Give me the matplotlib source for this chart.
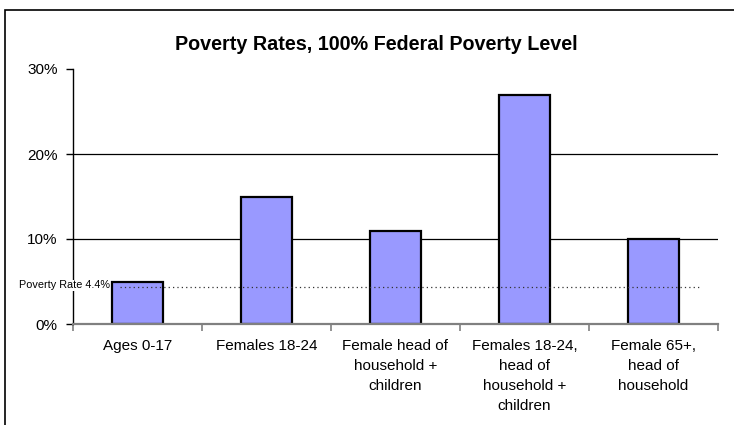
import matplotlib
matplotlib.use("Agg")
import matplotlib.pyplot as plt
from matplotlib.patches import Rectangle
from matplotlib.ticker import FuncFormatter

plt.rcParams['font.family'] = ['Liberation Sans', 'DejaVu Sans']

categories = ["Ages 0-17", "Females 18-24", "Female head of\nhousehold +\nchildren",
              "Females 18-24,\nhead of\nhousehold +\nchildren", "Female 65+,\nhead of\nhousehold"]
rates = [5, 15, 11, 27, 10]
poverty_rate = 4.4
y_ticks = [0, 10, 20, 30]
title = "Poverty Rates, 100% Federal Poverty Level"

W, H = 734, 425
fig = plt.figure(figsize=(W / 100, H / 100), dpi=100)
ax = fig.add_axes([73 / W, 1 - 324 / H, (718 - 73) / W, (324 - 69) / H])

x = list(range(len(categories)))
ax.bar(x, rates, width=0.4, color="#9999FF", edgecolor="black", linewidth=1.6, zorder=3)

ax.set_xlim(-0.5, len(categories) - 0.5)
ax.set_ylim(0, 30)
ax.set_yticks(y_ticks)
ax.yaxis.set_major_formatter(FuncFormatter(lambda v, p: f"{int(v)}%"))
for v in y_ticks[1:-1]:
    ax.axhline(v, color="black", linewidth=0.9, zorder=1)

ax.axhline(poverty_rate, xmin=47 / 645, xmax=628 / 645, color="#333333",
           linestyle=(0, (1, 2.5)), linewidth=0.9, zorder=4)
ax.text(-0.215, poverty_rate + 0.15, f"Poverty Rate {poverty_rate}%", fontsize=7.8,
        ha="right", va="center", zorder=7, clip_on=False,
        bbox=dict(facecolor="white", edgecolor="none", pad=0.3))

ax.set_xticks([i + 0.5 for i in range(-1, len(categories))], minor=False)
ax.set_xticklabels([])
ax.set_xticks(x, minor=True)
ax.set_xticklabels(categories, minor=True, fontsize=11, linespacing=1.55)
ax.tick_params(axis="x", which="minor", length=0, pad=11)
ax.tick_params(axis="x", which="major", length=5, color="#808080", width=1.2)
ax.tick_params(axis="y", length=5, width=1, labelsize=11, pad=6)

for s in ["top", "right"]:
    ax.spines[s].set_visible(False)
ax.spines["left"].set_color("black")
ax.spines["left"].set_linewidth(1)
ax.spines["bottom"].set_color("#808080")
ax.spines["bottom"].set_linewidth(1.6)
ax.spines["bottom"].set_zorder(6)

fig.text(376 / W, 1 - 45 / H, title, ha="center", va="center", fontsize=14.2, fontweight="bold")

fig.patches.append(Rectangle((5 / W, -0.1), 1.1, 1 - 10 / H + 0.1, transform=fig.transFigure,
                             fill=False, edgecolor="black", linewidth=1.2))

fig.savefig("out.png", dpi=100)
